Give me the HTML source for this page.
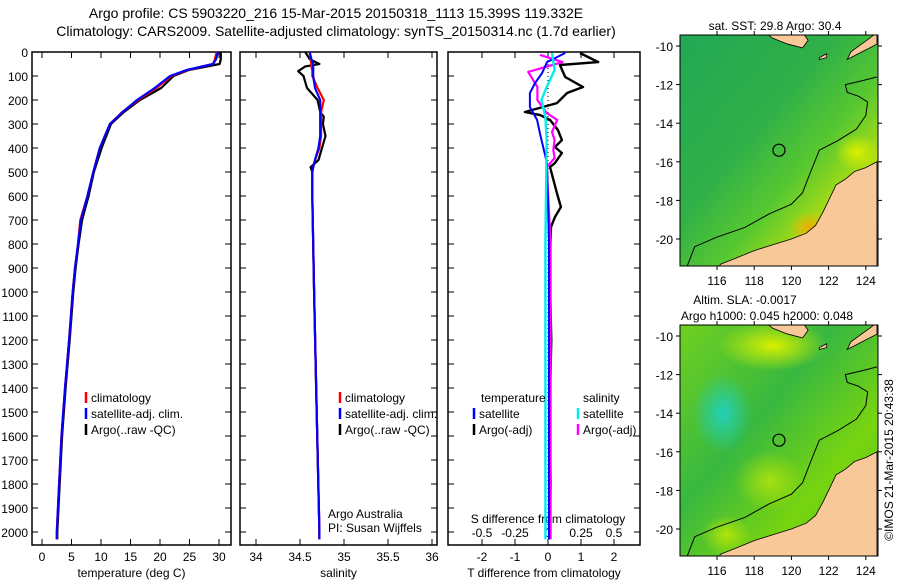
<!DOCTYPE html>
<html><head><meta charset="utf-8">
<style>
html,body{margin:0;padding:0;background:#fff;}
svg{display:block;font-family:"Liberation Sans",sans-serif;}
text{font-size:12px;fill:#000;}
</style></head>
<body>
<svg id="chart" width="900" height="580" viewBox="0 0 900 580" xmlns="http://www.w3.org/2000/svg">
<defs>
<linearGradient id="sstg" x1="0" y1="0" x2="1" y2="1">
<stop offset="0" stop-color="#22a855"/><stop offset="0.4" stop-color="#30b048"/><stop offset="0.6" stop-color="#58c830"/><stop offset="0.78" stop-color="#b8e010"/><stop offset="0.9" stop-color="#f0c000"/><stop offset="1" stop-color="#f0a000"/>
</linearGradient>
<linearGradient id="slag" x1="0" y1="0" x2="1" y2="1">
<stop offset="0" stop-color="#70d020"/><stop offset="0.4" stop-color="#38b840"/><stop offset="0.7" stop-color="#78d410"/><stop offset="1" stop-color="#50c820"/>
</linearGradient>
<radialGradient id="cyanblob" cx="0.5" cy="0.5" r="0.5">
<stop offset="0" stop-color="#20d0b8"/><stop offset="1" stop-color="#20d0b8" stop-opacity="0"/>
</radialGradient>
<radialGradient id="yblob" cx="0.5" cy="0.5" r="0.5">
<stop offset="0" stop-color="#d8f000"/><stop offset="1" stop-color="#d8f000" stop-opacity="0"/>
</radialGradient>
<radialGradient id="oblob" cx="0.5" cy="0.5" r="0.5">
<stop offset="0" stop-color="#f0a800"/><stop offset="1" stop-color="#f0c000" stop-opacity="0"/>
</radialGradient>
<clipPath id="clip1"><rect x="680" y="35" width="198" height="231"/></clipPath>
<clipPath id="clip2"><rect x="680" y="325" width="198" height="231"/></clipPath>
</defs>

<text x="336" y="18" text-anchor="middle" style="font-size:14px">Argo profile: CS 5903220_216 15-Mar-2015 20150318_1113 15.399S 119.332E</text>
<text x="336" y="36" text-anchor="middle" style="font-size:14px">Climatology: CARS2009. Satellite-adjusted climatology: synTS_20150314.nc (1.7d earlier)</text>

<g id="p1"></g>
<g id="p2"></g>
<g id="p3"></g>
<g id="maps"></g>

<text transform="translate(893,460) rotate(-90)" text-anchor="middle" style="font-size:12px">©IMOS 21-Mar-2015 20:43:38</text>
</svg>
<script>
// ---------- data ----------
const depthTicks = [0,100,200,300,400,500,600,700,800,900,1000,1100,1200,1300,1400,1500,1600,1700,1800,1900,2000];
const tempTicks = [0,5,10,15,20,25,30];
const salTicks = [34,34.5,35,35.5,36];
const tdiffTicks = [-2,-1,0,1,2];
const sdiffTickLabels = ["-0.5","-0.25","0","0.25","0.5"];
const sdiffTicks = [-0.5,-0.25,0,0.25,0.5];

const tDepth = [0,30,50,75,100,150,200,250,300,400,500,600,700,800,900,1000,1100,1200,1400,1600,1800,2000,2030];
const tClim  = [29.6,29.3,29.0,24.7,21.9,19.4,16.3,13.6,11.5,9.8,8.7,7.7,6.5,6.1,5.6,5.2,4.9,4.6,3.9,3.3,2.9,2.5,2.5];
const tSat   = [29.8,29.5,29.0,24.5,21.7,19.1,16.1,13.7,11.5,9.8,8.7,7.7,6.6,6.1,5.6,5.2,4.9,4.6,3.9,3.3,2.9,2.5,2.5];
const tArgo  = [30.3,30.3,30.1,24.9,22.3,20.2,16.6,13.9,11.7,10.1,8.8,7.9,6.8,6.2,5.7,5.3,5.0,4.7,4.0,3.4,3.0,2.6,2.6];

const sDepth = [0,30,50,60,80,100,150,200,250,270,300,350,400,450,480,500,600,1000,1500,2000,2030];
const sClim  = [34.61,34.62,34.63,34.63,34.64,34.64,34.70,34.77,34.74,34.74,34.74,34.74,34.72,34.67,34.65,34.64,34.64,34.66,34.69,34.72,34.72];
const sSat   = [34.61,34.63,34.65,34.65,34.65,34.65,34.67,34.73,34.73,34.73,34.73,34.73,34.71,34.67,34.65,34.64,34.64,34.66,34.69,34.72,34.72];
const sArgo  = [34.56,34.61,34.72,34.56,34.48,34.54,34.58,34.70,34.73,34.77,34.76,34.79,34.75,34.71,34.62,34.64,34.64,34.66,34.69,34.72,34.72];

const dtArgoDepth = [4,42,54,104,146,171,213,250,263,283,325,367,396,421,463,479,588,646,688,729,900,1200,1500,1800,2030];
const dtArgo      = [0.97,1.52,0.36,0.52,1.06,0.58,0.27,-0.70,-0.24,0.06,0.30,0.42,0.21,0.42,0.21,0.06,0.27,0.39,0.21,0.09,0.05,0.10,0.05,0.08,0.05];
const dtSatDepth = [4,42,88,129,171,229,283,342,463,800,2030];
const dtSat      = [0.52,-0.03,-0.18,-0.39,-0.55,-0.55,-0.33,-0.24,-0.03,0.03,0.03];
const dsArgoDepth = [12,42,83,146,200,254,283,333,367,408,442,479,800,2030];
const dsArgo      = [-0.06,0.11,-0.15,-0.08,-0.08,-0.01,0.07,0.03,0.05,0.04,0.05,-0.01,0.02,0.02];
const dsSatDepth = [4,75,146,200,271,367,800,2030];
const dsSat      = [0.03,0.05,-0.01,-0.05,-0.02,-0.01,-0.02,-0.02];

// ---------- helpers ----------
const NS="http://www.w3.org/2000/svg";
function mk(parent,tag,attrs,txt){const e=document.createElementNS(NS,tag);for(const k in attrs)e.setAttribute(k,attrs[k]);if(txt!==undefined)e.textContent=txt;parent.appendChild(e);return e;}
const Y0=52, DY=0.24;
const yScale = d => Y0 + d*DY;
const boxTop=52, boxBot=545;

function panel(g,x0,x1,xs,ticks,tickLabels,xlabel,showY){
  const r=mk(g,'rect',{x:x0,y:boxTop,width:x1-x0,height:boxBot-boxTop,fill:'none',stroke:'#000','stroke-width':1.5});
  
  
  depthTicks.forEach(d=>{
    const y=yScale(d);
    mk(g,'line',{x1:x0,x2:x0+6,y1:y,y2:y,stroke:'#000'});
    mk(g,'line',{x1:x1-6,x2:x1,y1:y,y2:y,stroke:'#000'});
    if(showY){const t=mk(g,'text',{x:x0-4,y:y+5,'text-anchor':'end'},String(d));
      
      }
  });
  ticks.forEach((v,i)=>{
    const x=xs(v);
    mk(g,'line',{x1:x,x2:x,y1:boxTop,y2:boxTop+6,stroke:'#000'});
    mk(g,'line',{x1:x,x2:x,y1:boxBot-6,y2:boxBot,stroke:'#000'});
    const t=mk(g,'text',{x:x,y:561,'text-anchor':'middle'},tickLabels[i]);
    
    
  });
  const xl=mk(g,'text',{x:(x0+x1)/2,y:577,'text-anchor':'middle'},xlabel);
  
  
}
function line(g,xs,vals,depths,color,name,w){
  const pts=vals.map((v,i)=>xs(v).toFixed(1)+','+yScale(depths[i]).toFixed(1)).join(' ');
  const p=mk(g,'polyline',{points:pts,fill:'none',stroke:color,'stroke-width':w||2.2,'stroke-linejoin':'round'});
  
  
}
function legend(g,x,y,color,label){
  mk(g,'line',{x1:x,x2:x,y1:y-10,y2:y+1,stroke:color,'stroke-width':2.5});
  const t=mk(g,'text',{x:x+5,y:y},label);
  
  
}

// ---------- panel 1: temperature ----------
const p1=document.getElementById('p1');
const xT = v => 42 + v*5.9;
panel(p1,32,231,xT,tempTicks,tempTicks.map(String),'temperature (deg C)',true);
line(p1,xT,tArgo,tDepth,'#000','argo-temperature-line');
line(p1,xT,tClim,tDepth,'#f00','climatology-temperature-line');
line(p1,xT,tSat,tDepth,'#00f','satellite-temperature-line');
legend(p1,86,402,'#f00','climatology');
legend(p1,86,418,'#00f','satellite-adj. clim.');
legend(p1,86,434,'#000','Argo(..raw -QC)');

// ---------- panel 2: salinity ----------
const p2=document.getElementById('p2');
const xS = v => 256 + (v-34)*88;
panel(p2,240,437,xS,salTicks,salTicks.map(String),'salinity',false);
line(p2,xS,sArgo,sDepth,'#000','argo-salinity-line');
line(p2,xS,sClim,sDepth,'#f00','climatology-salinity-line');
line(p2,xS,sSat,sDepth,'#00f','satellite-salinity-line');
legend(p2,340,402,'#f00','climatology');
legend(p2,340,418,'#00f','satellite-adj. clim.');
legend(p2,340,434,'#000','Argo(..raw -QC)');
const a1=mk(p2,'text',{x:328,y:518},'Argo Australia');


const a2=mk(p2,'text',{x:328,y:532},'PI: Susan Wijffels');



// ---------- panel 3: differences ----------
const p3=document.getElementById('p3');
const xDT = v => 548 + v*33;
const xDS = v => 548 + v*132;
panel(p3,448,640,xDT,tdiffTicks,tdiffTicks.map(String),'T difference from climatology',false);
sdiffTicks.forEach((v,i)=>{
  const t=mk(p3,'text',{x:xDS(v),y:537,'text-anchor':'middle'},sdiffTickLabels[i]);
  
  
});
const st=mk(p3,'text',{x:548,y:523,'text-anchor':'middle'},'S difference from climatology');


mk(p3,'line',{x1:xDT(0),x2:xDT(0),y1:yScale(0),y2:yScale(2000),stroke:'#000','stroke-dasharray':'1,3'});
line(p3,xDT,dtArgo,dtArgoDepth,'#000','argo-t-diff-line',2.4);
line(p3,xDS,dsArgo,dsArgoDepth,'#f0f','argo-s-diff-line',2.2);
line(p3,xDT,dtSat,dtSatDepth,'#00f','satellite-t-diff-line',2);
line(p3,xDS,dsSat,dsSatDepth,'#0ee','satellite-s-diff-line',2.4);
const lt=mk(p3,'text',{x:481,y:402},'temperature');


const ls=mk(p3,'text',{x:583,y:402},'salinity');


legend(p3,474,418,'#00f','satellite');
legend(p3,474,434,'#000','Argo(-adj)');
legend(p3,578,418,'#0ee','satellite');
legend(p3,578,434,'#f0f','Argo(-adj)');

// ---------- maps ----------
const maps=document.getElementById('maps');
const lonTicks=[116,118,120,122,124];
const latTicks=[-10,-12,-14,-16,-18,-20];
const coast=[[115.8,-21.8],[116.2,-21.3],[117,-21],[118,-20.6],[119,-20.3],[120,-20.0],[120.8,-19.7],[121.3,-19.3],[121.7,-18.6],[122.1,-17.8],[122.4,-17.2],[122.9,-16.9],[123.4,-16.5],[124,-16.3],[124.6,-16.0],[124.6,-21.8]];
const shelf=[[114.4,-21.4],[114.8,-20.4],[116,-19.9],[117.5,-19.4],[118.8,-18.7],[120,-18.2],[120.6,-17.6],[121,-16.6],[121.5,-15.4],[122.5,-14.9],[123.5,-14.3],[124,-13.6],[124.1,-12.9],[123.6,-12.6],[123.0,-12.4],[122.9,-12.0],[123.8,-11.8],[124.6,-11.6]];
const islands=[
 [[118.6,-9.3],[119.0,-9.6],[119.8,-9.9],[120.6,-10.1],[120.9,-9.7],[120.6,-9.3]],
 [[123.0,-10.7],[123.6,-10.4],[124.6,-9.9],[124.6,-9.3],[124.2,-9.6],[123.2,-10.3]],
 [[121.5,-10.6],[121.9,-10.4],[121.9,-10.6],[121.5,-10.7]]
];
function drawMap(top,lines,kind,clipId){
  const g=mk(maps,'g',{});
  
  
  const mx=v=>717+(v-116)*18.6;
  const my=v=>top+11+(-10-v)*19.3;
  const cg=mk(g,'g',{'clip-path':'url(#'+clipId+')'});
  mk(cg,'rect',{x:680,y:top,width:198,height:231,fill:kind==='sst'?'url(#sstg)':'url(#slag)'});
  if(kind==='sst'){
    mk(cg,'ellipse',{cx:mx(121),cy:my(-19.4),rx:22,ry:16,fill:'url(#oblob)'});
    mk(cg,'ellipse',{cx:mx(123.5),cy:my(-15.5),rx:22,ry:18,fill:'url(#yblob)'});
  }
  if(kind==='sla'){
    mk(cg,'ellipse',{cx:mx(116.3),cy:my(-14),rx:30,ry:40,fill:'url(#cyanblob)'});
    mk(cg,'ellipse',{cx:mx(119),cy:my(-10.5),rx:55,ry:25,fill:'url(#yblob)'});
    mk(cg,'ellipse',{cx:mx(118.8),cy:my(-17.5),rx:35,ry:30,fill:'url(#yblob)',opacity:0.6});
    mk(cg,'ellipse',{cx:mx(116.5),cy:my(-20.3),rx:25,ry:20,fill:'url(#yblob)',opacity:0.7});
  }
  const cp=coast.map(p=>mx(p[0])+','+my(p[1])).join(' ');
  mk(cg,'polygon',{points:cp,fill:'#f8c898',stroke:'#000','stroke-width':0.8});
  islands.forEach(isl=>mk(cg,'polygon',{points:isl.map(p=>mx(p[0])+','+my(p[1])).join(' '),fill:'#f8c898',stroke:'#000','stroke-width':0.8}));
  mk(cg,'polyline',{points:shelf.map(p=>mx(p[0])+','+my(p[1])).join(' '),fill:'none',stroke:'#000','stroke-width':1});
  const m=mk(cg,'circle',{cx:mx(119.332),cy:my(-15.399),r:6,fill:'none',stroke:'#000','stroke-width':1.2});
  
  
  mk(g,'rect',{x:680,y:top,width:198,height:231,fill:'none',stroke:'#000'});
  lonTicks.forEach(v=>{
    const x=mx(v);
    mk(g,'line',{x1:x,x2:x,y1:top,y2:top-4,stroke:'#000'});
    mk(g,'line',{x1:x,x2:x,y1:top+231,y2:top+235,stroke:'#000'});
    const t=mk(g,'text',{x:x,y:top+250,'text-anchor':'middle'},String(v));
    
    
  });
  latTicks.forEach(v=>{
    const y=my(v);
    mk(g,'line',{x1:680,x2:676,y1:y,y2:y,stroke:'#000'});
    mk(g,'line',{x1:878,x2:882,y1:y,y2:y,stroke:'#000'});
    const t=mk(g,'text',{x:673,y:y+5,'text-anchor':'end'},String(v));
    
    
  });
  lines.forEach((l,i)=>{
    const t=mk(g,'text',{x:l[1],y:top-5-(lines.length-1-i)*16,'text-anchor':'middle'},l[0]);
    
    
  });
}
drawMap(35,[["sat. SST: 29.8 Argo: 30.4",775]],'sst','clip1');
drawMap(325,[["Altim. SLA: -0.0017",745],["Argo h1000: 0.045 h2000: 0.048",767]],'sla','clip2');
</script>
</body></html>
